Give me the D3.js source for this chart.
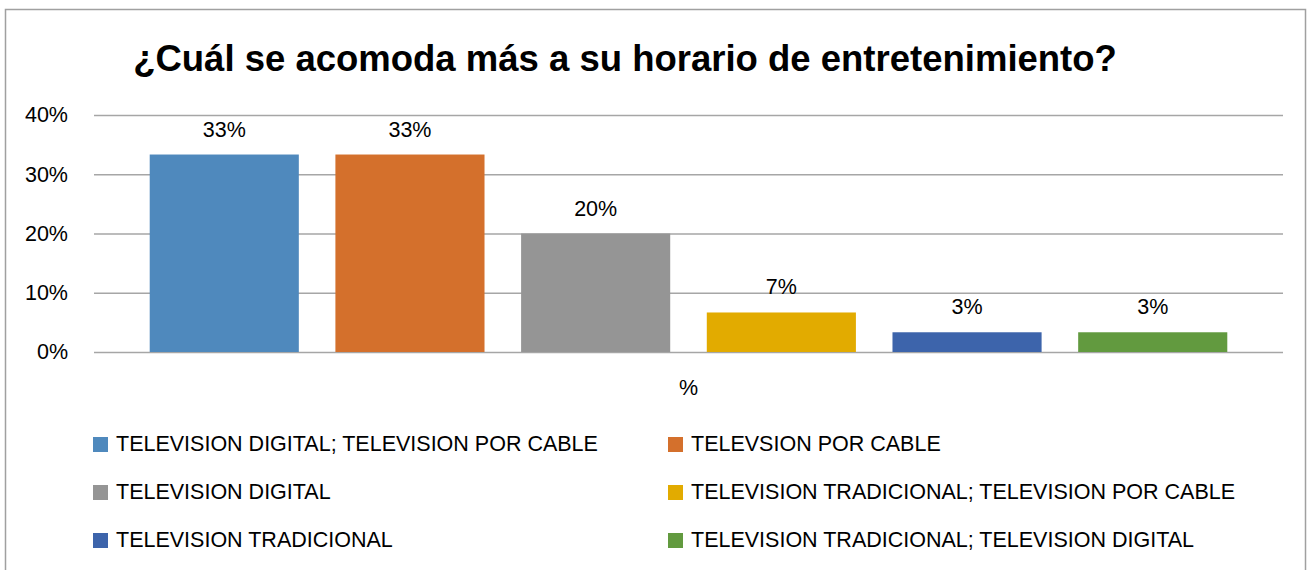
<!DOCTYPE html>
<html>
<head>
<meta charset="utf-8">
<script src="https://cdn.jsdelivr.net/npm/d3@7"></script>
<style>
  html, body { margin: 0; padding: 0; background: #ffffff; }
  svg { display: block; }
</style>
</head>
<body>
<div id="chart"></div>
<script>
const title = '¿Cuál se acomoda más a su horario de entretenimiento?';
const categories = [
    'TELEVISION DIGITAL; TELEVISION POR CABLE',
    'TELEVSION POR CABLE',
    'TELEVISION DIGITAL',
    'TELEVISION TRADICIONAL; TELEVISION POR CABLE',
    'TELEVISION TRADICIONAL',
    'TELEVISION TRADICIONAL; TELEVISION DIGITAL'
];
const values = [0.3333, 0.3333, 0.2, 0.0667, 0.0333, 0.0333];
const colors = ['#4f89bd', '#d4702c', '#959595', '#e2ab00', '#3d64ab', '#629a3f'];
const y_ticks = [0, 0.1, 0.2, 0.3, 0.4];
const x_label = '%';

const width = 1312, height = 570;
const font = '"Liberation Sans", Arial, sans-serif';
const plot = { left: 94, right: 1283, top: 115, bottom: 352 };

const svg = d3.select('#chart')
    .append('svg')
    .attr('width', width)
    .attr('height', height);

// chart frame
svg.append('rect')
    .attr('x', 5.5).attr('y', 9.5)
    .attr('width', 1300).attr('height', 600)
    .attr('fill', '#ffffff')
    .attr('stroke', '#a0a0a0')
    .attr('stroke-width', 1.5);

svg.append('text')
    .attr('x', 625).attr('y', 71)
    .attr('text-anchor', 'middle')
    .attr('font-family', font)
    .attr('font-weight', 'bold')
    .attr('font-size', '36.5px')
    .attr('fill', '#000000')
    .text(title);

const y = d3.scaleLinear().domain([0, 0.4]).range([plot.bottom, plot.top]);
const x = d3.scaleBand()
    .domain(categories)
    .range([plot.left, plot.right])
    .paddingInner(0.197)
    .paddingOuter(0.30);

// gridlines + tick labels
const y_axis = svg.append('g')
    .attr('transform', `translate(${plot.left},0)`)
    .call(d3.axisLeft(y)
        .tickValues(y_ticks)
        .tickFormat(d3.format('.0%'))
        .tickSize(-(plot.right - plot.left))
        .tickPadding(26));
y_axis.select('.domain').remove();
y_axis.selectAll('line')
    .attr('stroke', '#a6a6a6')
    .attr('stroke-width', 1.5);
y_axis.selectAll('text')
    .attr('font-family', font)
    .attr('font-size', '21.5px')
    .attr('fill', '#000000');

svg.append('g')
    .selectAll('rect')
    .data(values)
    .join('rect')
    .attr('x', (d, i) => x(categories[i]))
    .attr('y', d => y(d))
    .attr('width', x.bandwidth())
    .attr('height', d => y(0) - y(d))
    .attr('fill', (d, i) => colors[i]);

svg.append('g')
    .selectAll('text')
    .data(values)
    .join('text')
    .attr('x', (d, i) => x(categories[i]) + x.bandwidth() / 2)
    .attr('y', d => y(d) - 18)
    .attr('text-anchor', 'middle')
    .attr('font-family', font)
    .attr('font-size', '21.5px')
    .attr('fill', '#000000')
    .text(d => d3.format('.0%')(d));

svg.append('text')
    .attr('x', (plot.left + plot.right) / 2)
    .attr('y', 388)
    .attr('text-anchor', 'middle')
    .attr('dominant-baseline', 'central')
    .attr('font-family', font)
    .attr('font-size', '21.5px')
    .attr('fill', '#000000')
    .text(x_label);

// legend, two columns
const legend = svg.append('g')
    .selectAll('g')
    .data(categories)
    .join('g')
    .attr('transform', (d, i) => `translate(${i % 2 === 0 ? 93 : 668},${444 + 48 * Math.floor(i / 2)})`);

legend.append('rect')
    .attr('x', 0).attr('y', -7)
    .attr('width', 15).attr('height', 15)
    .attr('fill', (d, i) => colors[i]);

legend.append('text')
    .attr('x', 23).attr('y', 0)
    .attr('dominant-baseline', 'central')
    .attr('font-family', font)
    .attr('font-size', '21.5px')
    .attr('fill', '#000000')
    .text(d => d);
</script>
</body>
</html>
